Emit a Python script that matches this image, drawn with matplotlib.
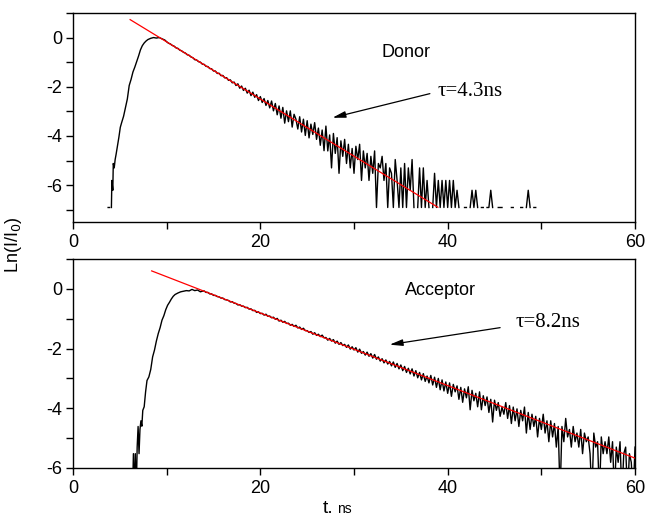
import numpy as np
import matplotlib
matplotlib.use("Agg")
import matplotlib.pyplot as plt
from matplotlib.ticker import MultipleLocator

nan = np.nan

# ---- data: Ln(I/I0) decay curves ----
# donor, rising edge (explicit channels)
donor_rise_t = [3.75, 3.9, 4.0, 4.1, 4.15, 4.25, 4.3, 4.4, 4.5, 4.6, 4.75, 4.9, 5.05,
                5.2, 5.4, 5.6, 5.8, 6.0, 6.2, 6.4, 6.6, 6.8, 7.0, 7.2, 7.4, 7.6, 7.8,
                8.0, 8.3, 8.6, 8.9, 9.2, 9.5, 9.8]
donor_rise_y = [-6.91, -6.91, nan, -6.91, -5.81, -6.21, -5.12, -5.30, -4.96, -4.75,
                -4.40, -4.05, -3.65, -3.45, -3.20, -2.85, -2.50, -1.95, -1.70, -1.40,
                -1.20, -0.98, -0.75, -0.50, -0.33, -0.22, -0.14, -0.08, -0.03, 0.0,
                -0.02, 0.0, -0.05, -0.10]
# donor, decay tail: channels every 0.2 ns from 10.0 ns
donor_t0, donor_dt = 10.0, 0.2
donor_decay_y = [
    -0.17, -0.23, -0.26, -0.32, -0.35,
    -0.42, -0.44, -0.51, -0.54, -0.60,
    -0.63, -0.70, -0.72, -0.79, -0.82,
    -0.90, -0.91, -0.98, -1.00, -1.08,
    -1.09, -1.17, -1.18, -1.26, -1.27,
    -1.36, -1.36, -1.46, -1.45, -1.55,
    -1.54, -1.64, -1.63, -1.74, -1.72,
    -1.84, -1.81, -1.95, -1.88, -2.06,
    -1.97, -2.15, -2.06, -2.26, -2.14,
    -2.36, -2.22, -2.43, -2.32, -2.56,
    -2.40, -2.64, -2.48, -2.76, -2.56,
    -2.86, -2.58, -2.98, -2.68, -3.14,
    -2.78, -3.28, -2.84, -3.48, -2.98,
    -3.42, -2.98, -3.64, -3.12, -3.32,
    -3.72, -3.22, -3.84, -3.32, -3.98,
    -3.38, -4.08, -3.52, -3.94, -3.46,
    -4.14, -3.68, -4.38, -3.76, -4.60,
    -3.60, -4.61, -3.96, -5.30, -3.90,
    -4.71, -4.07, -5.52, -4.20, -4.83,
    -4.14, -5.12, -4.34, -5.30, -4.51,
    -5.52, -4.42, -4.96, -4.34, -5.81,
    -4.61, -5.30, -4.71, -5.81, -4.83,
    -5.52, -4.61, -6.91, -5.12, -5.30,
    -4.83, -5.81, -5.12, -6.91, -5.30,
    -5.52, -6.91, -4.96, -5.81, -6.91,
    -5.30, -6.91, -5.12, -6.91, -5.30,
    -6.21, -4.96, -6.91, nan, -6.91,
    -5.30, -6.91, -5.30, -6.91, -5.81,
    -6.91, nan, -6.91, -5.52, -6.91,
    -5.81, -6.91, -5.81, -6.91, -5.81,
    -6.91, -5.81, -6.91, -5.81, -6.91,
    -6.21, -6.91, nan, nan, -6.91,
    -6.91, nan, -6.91, -6.21, -6.91,
    -6.21, -6.91, nan, -6.91, -6.91,
    nan, -6.91, -6.91, -6.21, -6.91,
    nan, nan, -6.91, -6.91, -6.91,
    nan, nan, nan, nan, -6.91,
    -6.91, nan, nan, nan, -6.91,
    -6.91, nan, -6.91, -6.21, -6.91,
    nan, -6.91, -6.91,
]
donor_fit_t = [6.1, 38.95]
donor_fit_y = [0.73, -6.9]

# acceptor, rising edge
acc_rise_t = [6.35, 6.45, 6.55, 6.65, 6.75, 6.85, 6.95, 7.05, 7.15, 7.25, 7.35, 7.45,
              7.6, 7.75, 7.9, 8.1, 8.3, 8.5, 8.7, 8.9, 9.1, 9.3, 9.5, 9.7, 9.9, 10.1,
              10.3, 10.5, 10.7, 10.9, 11.2, 11.5, 11.8, 12.1, 12.4, 12.7, 13.0, 13.3,
              13.6, 13.8]
acc_rise_y = [-6.91, -5.52, -6.91, -5.52, -6.91, -5.30, -4.61, -5.52, -4.71, -4.42,
              -4.60, -4.07, -3.95, -3.45, -3.07, -2.95, -2.70, -2.28, -2.05, -1.75,
              -1.50, -1.30, -1.05, -0.90, -0.70, -0.55, -0.45, -0.34, -0.25, -0.19,
              -0.14, -0.10, -0.08, -0.06, -0.07, -0.02, -0.06, -0.04, -0.10, -0.08]
# acceptor, decay tail: channels every 0.2 ns from 14.0 ns
acc_t0, acc_dt = 14.0, 0.2
acc_decay_y = [
    -0.07, -0.12, -0.12, -0.17, -0.17,
    -0.22, -0.22, -0.26, -0.27, -0.31,
    -0.31, -0.36, -0.37, -0.39, -0.44,
    -0.43, -0.48, -0.49, -0.54, -0.53,
    -0.58, -0.58, -0.63, -0.62, -0.68,
    -0.67, -0.73, -0.72, -0.79, -0.77,
    -0.83, -0.82, -0.88, -0.85, -0.92,
    -0.91, -0.97, -0.95, -1.02, -0.99,
    -1.08, -1.05, -1.12, -1.09, -1.16,
    -1.15, -1.22, -1.19, -1.26, -1.22,
    -1.31, -1.28, -1.36, -1.32, -1.40,
    -1.40, -1.46, -1.43, -1.52, -1.47,
    -1.56, -1.52, -1.60, -1.55, -1.64,
    -1.63, -1.72, -1.66, -1.75, -1.70,
    -1.82, -1.75, -1.86, -1.80, -1.90,
    -1.86, -1.96, -1.88, -2.02, -1.94,
    -2.05, -1.97, -2.12, -2.02, -2.16,
    -2.10, -2.22, -2.12, -2.26, -2.17,
    -2.32, -2.20, -2.36, -2.28, -2.42,
    -2.34, -2.48, -2.38, -2.52, -2.43,
    -2.58, -2.45, -2.63, -2.50, -2.68,
    -2.55, -2.74, -2.60, -2.80, -2.66,
    -2.85, -2.68, -2.92, -2.74, -2.98,
    -2.80, -3.05, -2.84, -3.10, -2.92,
    -3.15, -2.90, -3.22, -2.96, -3.30,
    -3.00, -3.38, -3.05, -3.42, -3.12,
    -3.50, -3.15, -3.60, -3.20, -3.45,
    -3.25, -3.70, -3.30, -3.80, -3.35,
    -3.65, -3.28, -4.05, -3.40, -3.75,
    -3.50, -3.95, -3.45, -4.05, -3.58,
    -3.91, -3.62, -4.14, -3.70, -4.46,
    -3.73, -4.07, -3.81, -4.27, -3.96,
    -4.20, -3.81, -4.34, -3.91, -4.51,
    -3.96, -4.42, -4.02, -4.61, -4.07,
    -4.42, -3.96, -4.83, -4.14, -4.71,
    -4.20, -4.61, -4.27, -4.96, -4.34,
    -4.71, -4.20, -4.83, -4.42, -5.12,
    -4.42, -4.96, -4.51, -5.30, -4.61,
    -6.91, -4.61, -5.12, -4.34, -4.96,
    -4.71, -5.30, -4.61, -5.12, -4.83,
    -5.30, -4.71, -5.52, -4.83, -5.12,
    -4.96, -5.52, -6.91, -4.83, -5.30,
    -5.12, -6.91, -4.96, -5.52, -5.12,
    -5.52, -4.96, -5.81, -5.12, -6.91,
    -5.30, -5.81, -5.12, -6.91, -5.52,
    -5.30, -6.91, -5.52, -5.81, -6.91,
    -5.30,
]
acc_fit_t = [8.4, 60.0]
acc_fit_y = [0.6, -5.67]

# ---- plotting ----
plt.rcParams['font.family'] = ['Liberation Sans', 'DejaVu Sans']
plt.rcParams['font.size'] = 13
plt.rcParams['axes.unicode_minus'] = False

fig = plt.figure(figsize=(6.46, 5.17), dpi=100)
ax1 = fig.add_axes([0.113, 0.5706, 0.870, 0.4043])
ax2 = fig.add_axes([0.113, 0.0948, 0.870, 0.4043])

donor_t = donor_rise_t + list(donor_t0 + donor_dt * np.arange(len(donor_decay_y)))
donor_y = donor_rise_y + donor_decay_y
acc_t = acc_rise_t + list(acc_t0 + acc_dt * np.arange(len(acc_decay_y)))
acc_y = acc_rise_y + acc_decay_y

ax1.plot(donor_t, donor_y, color='black', lw=1.0)
ax1.plot(donor_fit_t, donor_fit_y, color='red', lw=0.9, zorder=3)
ax2.plot(acc_t, acc_y, color='black', lw=1.0)
ax2.plot(acc_fit_t, acc_fit_y, color='red', lw=0.9, zorder=3)

ax1.set_ylim(-7.5, 1)
ax2.set_ylim(-6, 1)

for ax in (ax1, ax2):
    ax.set_xlim(0, 60)
    ax.xaxis.set_major_locator(MultipleLocator(20))
    ax.xaxis.set_minor_locator(MultipleLocator(10))
    ax.yaxis.set_major_locator(MultipleLocator(2))
    ax.yaxis.set_minor_locator(MultipleLocator(1))
    ax.tick_params(which='both', direction='out', length=5, width=1,
                   top=False, right=False)
    ax.tick_params(axis='x', pad=4)
    ax.tick_params(axis='y', pad=3)
    for s in ax.spines.values():
        s.set_linewidth(1)

serif = ['Liberation Serif', 'DejaVu Serif']

ax1.text(35.5, -0.61, 'Donor', ha='center', va='center', fontsize=13)
ax1.text(38.95, -2.18, 'τ=4.3ns', ha='left', va='center', fontsize=15, family=serif)
ax1.annotate('', xy=(27.7, -3.26), xytext=(38.1, -2.28),
             arrowprops=dict(arrowstyle='-|>,head_length=0.6,head_width=0.15',
                             color='black', lw=0.9, shrinkA=0, shrinkB=0))

ax2.text(39.2, -0.07, 'Acceptor', ha='center', va='center', fontsize=13)
ax2.text(47.2, -1.12, 'τ=8.2ns', ha='left', va='center', fontsize=15, family=serif)
ax2.annotate('', xy=(33.8, -1.87), xytext=(45.6, -1.3),
             arrowprops=dict(arrowstyle='-|>,head_length=0.6,head_width=0.15',
                             color='black', lw=0.9, shrinkA=0, shrinkB=0))

fig.text(0.021, 0.526, 'Ln(I/I$_0$)', rotation=90, ha='center', va='center', fontsize=13)
fig.text(323 / 646, 0.008, 't.', ha='left', va='baseline', fontsize=14)
fig.text(337 / 646, 0.008, 'ns', ha='left', va='baseline', fontsize=10)

fig.savefig('out.png', dpi=100)
